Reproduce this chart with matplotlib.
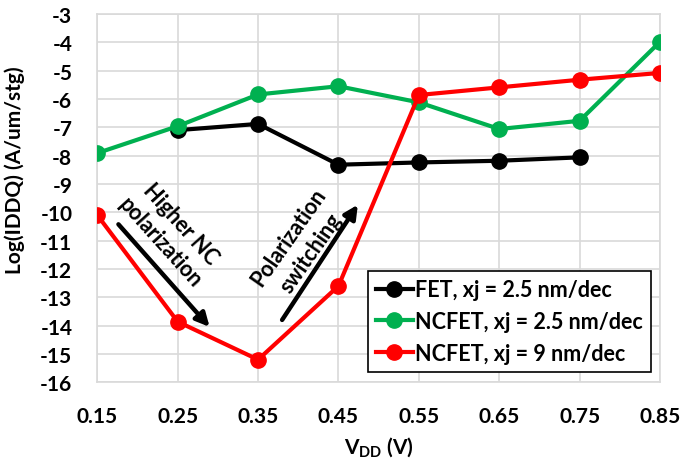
import matplotlib
matplotlib.use("Agg")
import matplotlib.pyplot as plt

plt.rcParams['font.family'] = ['Lato', 'DejaVu Sans']
plt.rcParams['font.weight'] = 'bold'
plt.rcParams['mathtext.fontset'] = 'custom'
plt.rcParams['mathtext.rm'] = 'Lato:bold'
plt.rcParams['mathtext.default'] = 'regular'

vdd = [0.15, 0.25, 0.35, 0.45, 0.55, 0.65, 0.75, 0.85]
vdd_labels = ["0.15", "0.25", "0.35", "0.45", "0.55", "0.65", "0.75", "0.85"]

fet_vdd = [0.25, 0.35, 0.45, 0.55, 0.65, 0.75]
fet_25 = [-7.1, -6.88, -8.32, -8.24, -8.18, -8.06]
ncfet_25 = [-7.91, -6.96, -5.84, -5.55, -6.12, -7.06, -6.77, -3.98]
ncfet_9 = [-10.1, -13.86, -15.2, -12.6, -5.86, -5.59, -5.32, -5.08]

y_ticks = list(range(-16, -2))

FS = 15

fig = plt.figure(figsize=(6.98, 4.64), dpi=100)
ax = fig.add_axes([0.1394, 0.1739, 0.8062, 0.7938])

lw, ms = 3.0, 11
ax.plot(fet_vdd, fet_25, color='black', lw=lw, marker='o', ms=ms,
        label='FET, xj = 2.5 nm/dec', zorder=3)
ax.plot(vdd, ncfet_25, color='#00b050', lw=lw, marker='o', ms=ms,
        label='NCFET, xj = 2.5 nm/dec', zorder=4)
ax.plot(vdd, ncfet_9, color='#ff0000', lw=lw, marker='o', ms=ms,
        label='NCFET, xj = 9 nm/dec', zorder=5)

ax.set_xlim(0.15, 0.85)
ax.set_ylim(-16, -3)
ax.set_xticks(vdd)
ax.set_xticklabels(vdd_labels)
ax.set_yticks(y_ticks)
ax.set_yticklabels([str(v) for v in y_ticks])
ax.tick_params(length=0, labelsize=FS)
ax.tick_params(axis='x', pad=17)
ax.tick_params(axis='y', pad=18)
ax.grid(True, color='#d9d9d9', lw=1.2)
ax.set_axisbelow(True)
for s in ax.spines.values():
    s.set_color('#d9d9d9')
    s.set_linewidth(1.2)

ax.set_xlabel(r'V$_{DD}$ (V)', fontsize=FS, fontweight='bold', labelpad=6)
ax.set_ylabel('Log(IDDQ) (A/um/stg)', fontsize=FS, fontweight='bold')
ax.yaxis.set_label_coords(-0.1285, 0.579)

# trend arrows with their captions
arrow_kw = dict(arrowstyle='-|>,head_length=0.8,head_width=0.4', color='black', lw=3.2)
ax.annotate('', xy=(0.292, -14.12), xytext=(0.174, -10.35), arrowprops=arrow_kw, zorder=6)
ax.annotate('', xy=(0.476, -9.65), xytext=(0.378, -13.88), arrowprops=arrow_kw, zorder=6)
ax.text(0.2411, -10.71, 'Higher NC\npolarization', rotation=-48, fontsize=15.5,
        fontweight='bold', ha='center', va='center', rotation_mode='anchor',
        linespacing=1.4, zorder=6)
ax.text(0.4023, -11.15, 'Polarization\nswitching', rotation=55, fontsize=15.5,
        fontweight='bold', ha='center', va='center', rotation_mode='anchor',
        linespacing=1.4, zorder=6)

leg = ax.legend(loc='lower right', bbox_to_anchor=(0.9845, 0.027), fontsize=15.5,
                frameon=True, fancybox=False, edgecolor='black', framealpha=1,
                handlelength=1.7, handletextpad=0.1, borderpad=0.4,
                labelspacing=0.5, borderaxespad=0)
leg.get_frame().set_linewidth(1.2)
leg.set_zorder(10)

fig.savefig('out.png', dpi=100)
